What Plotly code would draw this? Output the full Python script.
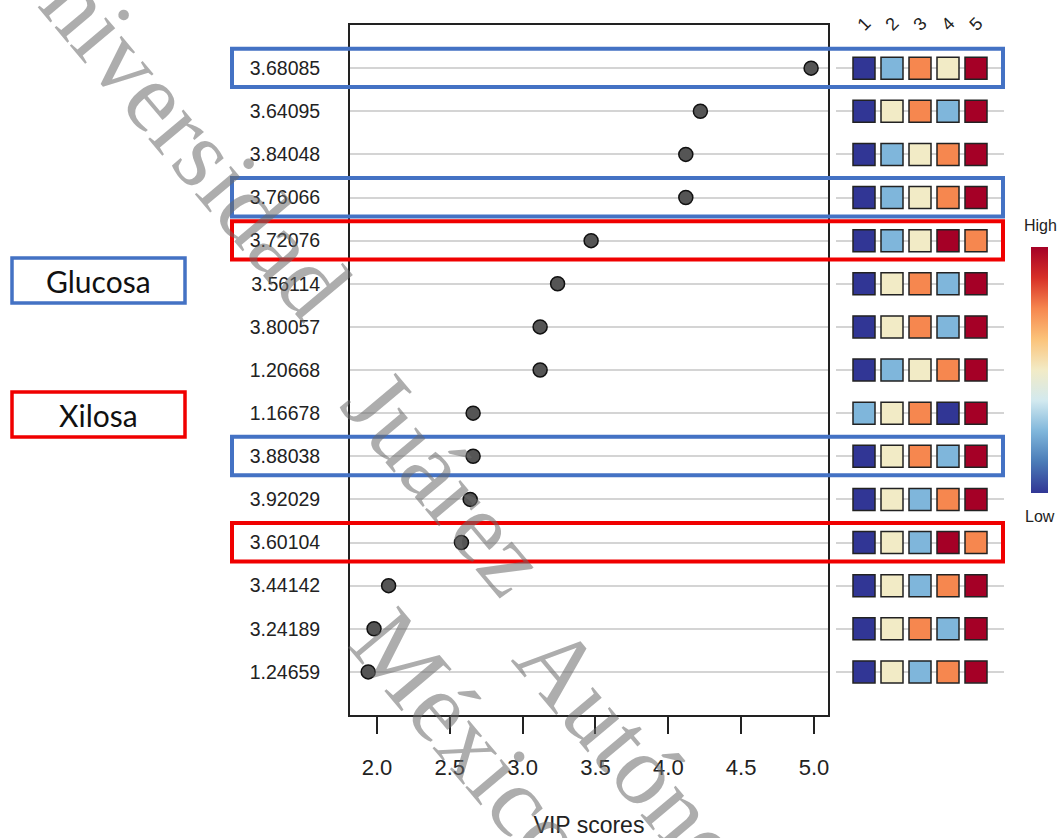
import plotly.graph_objects as go

# ---- data -------------------------------------------------------------
features = ["3.68085", "3.64095", "3.84048", "3.76066", "3.72076",
            "3.56114", "3.80057", "1.20668", "1.16678", "3.88038",
            "3.92029", "3.60104", "3.44142", "3.24189", "1.24659"]
vip_scores = [4.98, 4.22, 4.12, 4.12, 3.47,
              3.24, 3.12, 3.12, 2.66, 2.66,
              2.64, 2.58, 2.08, 1.98, 1.94]
groups = ["1", "2", "3", "4", "5"]
# relative level of each feature per group (1 = low ... 5 = high)
levels = [
    [1, 2, 4, 3, 5],
    [1, 3, 4, 2, 5],
    [1, 2, 3, 4, 5],
    [1, 2, 3, 4, 5],
    [1, 2, 3, 5, 4],
    [1, 3, 4, 2, 5],
    [1, 3, 4, 2, 5],
    [1, 2, 3, 4, 5],
    [2, 3, 4, 1, 5],
    [1, 3, 4, 2, 5],
    [1, 3, 2, 4, 5],
    [1, 3, 2, 5, 4],
    [1, 3, 2, 4, 5],
    [1, 3, 4, 2, 5],
    [1, 3, 2, 4, 5],
]
xtick_vals = [2.0, 2.5, 3.0, 3.5, 4.0, 4.5, 5.0]
glucosa_rows = ["3.68085", "3.76066", "3.88038"]
xilosa_rows = ["3.72076", "3.60104"]

# ---- page geometry helpers (pixel -> paper) ---------------------------
W, H = 1060, 838


def px(x):
    return x / W


def py(y):
    return 1 - y / H


BLUE = "#4472c4"
RED = "#f00000"
level_scale = [
    [0.0, "#313695"], [0.125, "#4a7bb7"], [0.25, "#7fb6db"],
    [0.375, "#d2e9ef"], [0.5, "#f2ebc6"], [0.625, "#fbc37a"],
    [0.75, "#f6874f"], [0.875, "#d73027"], [1.0, "#a50026"],
]

# flatten the level table into one marker per cell
cell_x, cell_y, cell_c = [], [], []
for feat, row in zip(features, levels):
    for g, v in zip(groups, row):
        cell_x.append(int(g))
        cell_y.append(feat)
        cell_c.append(v)

fig = go.Figure()

fig.add_trace(go.Scatter(
    x=vip_scores, y=features, mode="markers",
    marker=dict(size=14, color="#555555", line=dict(color="#111111", width=1.5)),
    xaxis="x", yaxis="y", showlegend=False, hoverinfo="x+y",
))

fig.add_trace(go.Scatter(
    x=cell_x, y=cell_y, mode="markers",
    marker=dict(
        symbol="square", size=22, color=cell_c, cmin=1, cmax=5,
        colorscale=level_scale, line=dict(color="#222222", width=1.5),
        showscale=True,
        colorbar=dict(
            x=px(1031), xanchor="left", y=py(370), yanchor="middle",
            len=246, lenmode="pixels", thickness=17, outlinewidth=0,
            showticklabels=False, ticks="", xpad=0, ypad=0,
        ),
    ),
    xaxis="x2", yaxis="y", showlegend=False, hoverinfo="skip",
))

axis_font = dict(family="Liberation Sans, Arial, sans-serif", color="#222222")

fig.update_layout(
    width=W, height=H,
    margin=dict(l=0, r=0, t=0, b=0),
    paper_bgcolor="white", plot_bgcolor="white",
    xaxis=dict(
        domain=[px(350), px(828)], range=[1.815, 5.096],
        tickvals=xtick_vals, tickformat=".1f",
        ticks="outside", ticklen=17, tickwidth=1.5, tickcolor="#222222",
        showline=True, mirror=True, linecolor="#222222", linewidth=1.8,
        showgrid=False, zeroline=False, automargin=False,
        tickfont=dict(size=22, **axis_font), ticklabelstandoff=15,
        title=dict(text="VIP scores", font=dict(size=23, **axis_font), standoff=40),
    ),
    yaxis=dict(
        domain=[py(715), py(25)], type="category", categoryorder="array",
        categoryarray=features, range=[15, -1],
        showline=True, mirror=True, linecolor="#222222", linewidth=1.8,
        showgrid=True, gridcolor="#d4d4d4", gridwidth=1.6,
        ticks="", zeroline=False, automargin=False,
        tickfont=dict(size=19.5, **axis_font), ticklabelstandoff=24,
    ),
    xaxis2=dict(
        domain=[px(836), px(1004)], range=[0, 6], anchor="y",
        visible=False, showgrid=False, zeroline=False,
    ),
)

shapes = []
annotations = []

# outline boxes around the highlighted features
for rows, col in ((glucosa_rows, BLUE), (xilosa_rows, RED)):
    for feat in rows:
        i = features.index(feat)
        shapes.append(dict(
            type="rect", xref="paper", yref="y",
            x0=px(232), x1=px(1003), y0=i - 0.45, y1=i + 0.44,
            line=dict(color=col, width=4), fillcolor="rgba(0,0,0,0)",
        ))

# legend boxes
for label, col, top, bottom in (("Glucosa", BLUE, 258, 303), ("Xilosa", RED, 392, 437)):
    shapes.append(dict(
        type="rect", xref="paper", yref="paper",
        x0=px(12), x1=px(185), y0=py(bottom), y1=py(top),
        line=dict(color=col, width=3.5), fillcolor="white",
    ))
    annotations.append(dict(
        text=label, xref="paper", yref="paper",
        x=px(98), y=py((top + bottom) / 2), showarrow=False,
        xanchor="center", yanchor="middle",
        font=dict(family="Lato, Carlito, sans-serif", size=30, color="#111111"),
    ))

# group labels above the level columns
for g in groups:
    annotations.append(dict(
        text=g, xref="x2", yref="paper", x=int(g), y=py(24),
        showarrow=False, textangle=-45, xanchor="center", yanchor="middle",
        font=dict(size=18, **axis_font),
    ))

# colour bar captions
annotations.append(dict(text="High", xref="paper", yref="paper", x=px(1040), y=py(226),
                        xanchor="center", yanchor="middle",
                        showarrow=False, font=dict(size=16, **axis_font)))
annotations.append(dict(text="Low", xref="paper", yref="paper", x=px(1040), y=py(516),
                        xanchor="center", yanchor="middle",
                        showarrow=False, font=dict(size=16, **axis_font)))

# diagonal watermark
wm_font = dict(family="Liberation Serif, Times New Roman, serif", size=100,
               color="rgba(105,105,105,0.55)")
for word, cx, cy in (("Universidad", 172, 116), ("Juárez", 445, 482),
                     ("Autónoma", 672, 800), ("México", 470, 740)):
    annotations.append(dict(
        text=word, xref="paper", yref="paper", x=px(cx), y=py(cy),
        showarrow=False, textangle=50, xanchor="center", yanchor="middle",
        font=wm_font,
    ))

fig.update_layout(shapes=shapes, annotations=annotations)

fig.write_html("out.html")
